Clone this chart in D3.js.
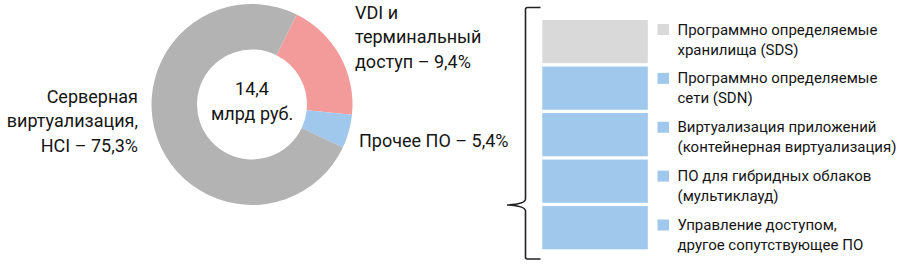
<!DOCTYPE html>
<html>
<head>
<meta charset="utf-8">
<script src="https://cdn.jsdelivr.net/npm/d3@7"></script>
<style>
  body { margin: 0; background: #fff; }
  svg text { font-family: Roboto, "Noto Sans", sans-serif; fill: #151515; }
</style>
</head>
<body>
<div id="chart"></div>
<script>
// donut: order as drawn clockwise, starting from the top-right edge
const donutNames = ["VDI и терминальный доступ", "Прочее ПО", "Серверная виртуализация, HCI"];
const donutValues = [19.3, 5.4, 75.3];
const donutColors = ["#f39b9b", "#9fc8ec", "#b3b3b3"];
const donutLabelLines = [
    ["VDI и", "терминальный", "доступ – 9,4%"],
    ["Прочее ПО – 5,4%"],
    ["Серверная", "виртуализация,", "HCI – 75,3%"]
];
const totalLines = ["14,4", "млрд руб."];

// stacked column on the right
const stackNames = [
    ["Программно определяемые", "хранилища (SDS)"],
    ["Программно определяемые", "сети (SDN)"],
    ["Виртуализация приложений", "(контейнерная виртуализация)"],
    ["ПО для гибридных облаков", "(мультиклауд)"],
    ["Управление доступом,", "другое сопутствующее ПО"]
];
const stackValues = [1, 1, 1, 1, 1];
const stackColors = ["#d9d9d9", "#9fc8ec", "#9fc8ec", "#9fc8ec", "#9fc8ec"];

let width = 900, height = 270;
let svg = d3.select("#chart")
    .append("svg")
    .attr("width", width)
    .attr("height", height);

// ---- donut ----
let cx = 252, cy = 104.5;
let pie = d3.pie()
    .sort(null)
    .startAngle(26.4 * Math.PI / 180)
    .endAngle(26.4 * Math.PI / 180 + 2 * Math.PI);
let arc = d3.arc().innerRadius(55).outerRadius(100.5);

let g = svg.append("g").attr("transform", "translate(" + cx + "," + cy + ")");
g.selectAll("path")
    .data(pie(donutValues))
    .enter()
    .append("path")
        .attr("d", arc)
        .attr("fill", (d, i) => donutColors[i]);

g.selectAll(".total")
    .data(totalLines)
    .enter()
    .append("text")
        .attr("class", "total")
        .attr("text-anchor", "middle")
        .attr("x", 0)
        .attr("y", (d, i) => -9.5 + i * 25)
        .style("font-size", "18px")
        .text(d => d);

// label anchors, one per slice
let labelPos = [
    {x: 355, y: 18.5, anchor: "start"},
    {x: 359, y: 146.5, anchor: "start"},
    {x: 138, y: 102.5, anchor: "end"}
];
donutLabelLines.forEach(function(lines, i) {
    let t = svg.append("text")
        .attr("text-anchor", labelPos[i].anchor)
        .style("font-size", "18px");
    lines.forEach(function(line, j) {
        t.append("tspan")
            .attr("x", labelPos[i].x)
            .attr("y", labelPos[i].y + j * 24.6)
            .text(line);
    });
});

// ---- stacked column ----
let total = d3.sum(stackValues);
let y = d3.scaleLinear().domain([0, total]).range([20, 252.6]);
let cum = d3.cumsum(stackValues);
let gap = 3.3;
svg.selectAll(".seg")
    .data(stackValues)
    .enter()
    .append("rect")
        .attr("class", "seg")
        .attr("x", 542.3)
        .attr("width", 105.5)
        .attr("y", (d, i) => y(cum[i] - d))
        .attr("height", (d, i) => y(cum[i]) - y(cum[i] - d) - gap)
        .attr("fill", (d, i) => stackColors[i]);

// legend
let ly = d3.scalePoint()
    .domain(d3.range(stackNames.length))
    .range([24, 219.5]);
let lg = svg.selectAll(".leg")
    .data(stackNames)
    .enter()
    .append("g")
        .attr("class", "leg")
        .attr("transform", (d, i) => "translate(657.5," + ly(i) + ")");
lg.append("rect")
    .attr("width", 11.5)
    .attr("height", 11)
    .attr("fill", (d, i) => stackColors[i]);
lg.append("text")
    .style("font-size", "15px")
    .selectAll("tspan")
    .data(d => d)
    .enter()
    .append("tspan")
        .attr("x", 20)
        .attr("y", (d, j) => 10.5 + j * 20)
        .text(d => d);

// curly bracket
let bx = 525.5, bTop = 7.5, bBot = 259, tipY = 205, tipX = 507;
let bracket = d3.path();
bracket.moveTo(540.5, bTop);
bracket.lineTo(bx + 2, bTop);
bracket.quadraticCurveTo(bx, bTop, bx, bTop + 2);
bracket.lineTo(bx, tipY - 6);
bracket.quadraticCurveTo(bx, tipY - 1, tipX, tipY);
bracket.quadraticCurveTo(bx, tipY + 1, bx, tipY + 6);
bracket.lineTo(bx, bBot - 2);
bracket.quadraticCurveTo(bx, bBot, bx + 2, bBot);
bracket.lineTo(540.5, bBot);
svg.append("path")
    .attr("d", bracket.toString())
    .attr("fill", "none")
    .attr("stroke", "#222")
    .attr("stroke-width", 1.6);
</script>
</body>
</html>
